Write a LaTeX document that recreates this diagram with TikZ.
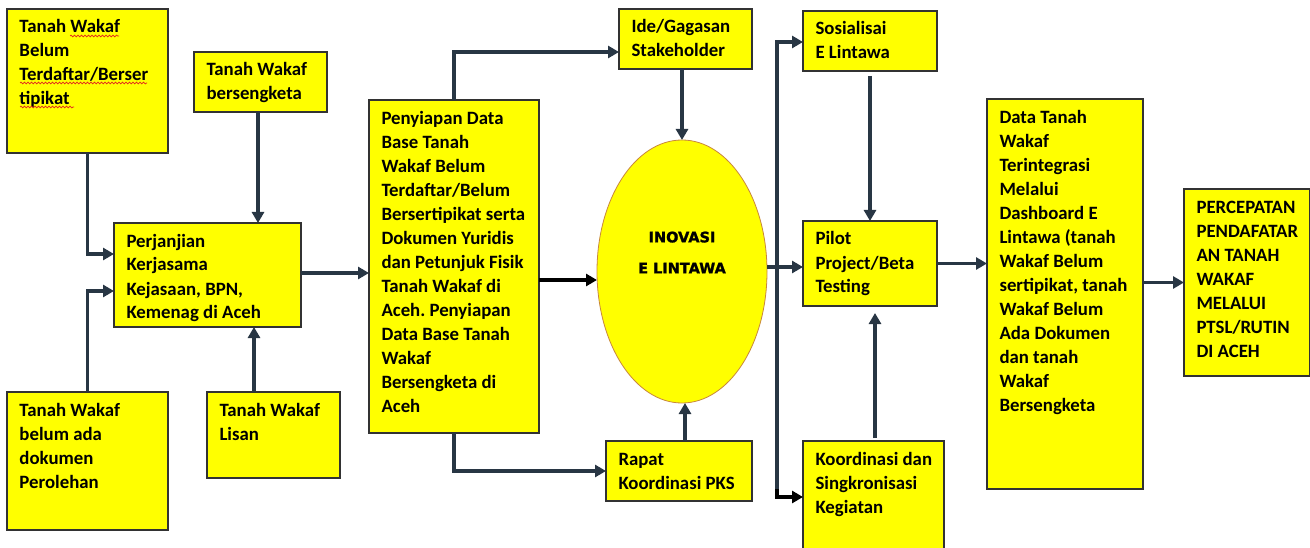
\documentclass[tikz,border=0pt]{standalone}
\usepackage{fontspec}
\setmainfont{Carlito}
\newfontfamily\heavyfont{DejaVu Sans}[BoldFeatures={FakeBold=1.5}]
\usetikzlibrary{arrows.meta,shapes.geometric,decorations.pathmorphing,calc}
\frenchspacing

\definecolor{boxfill}{RGB}{255,255,0}
\definecolor{boxline}{RGB}{50,50,50}
\definecolor{wire}{RGB}{40,54,68}
\definecolor{ovalline}{RGB}{200,135,60}
\definecolor{spellred}{RGB}{225,40,30}

% yellow box with top-left aligned text: name, left, top, width, height, text
\newcommand{\flowbox}[6]{%
  \node[box, minimum width=#4pt, minimum height=#5pt] (#1) at (#2,#3) {};
  \node[txt] (#1-t) at ([shift={(12.5pt,-7.2pt)}]#1.north west) {\strut #6};
}

\begin{document}
\begin{tikzpicture}[x=1pt,y=-1pt,
  box/.style={draw=boxline, fill=boxfill, line width=1.3pt, inner sep=0pt, outer sep=0pt, anchor=north west},
  txt/.style={anchor=north west, inner sep=0pt, outer sep=0pt, align=left, font=\fontsize{18.8}{24}\selectfont\bfseries},
  wirearrow/.style={draw=wire, line width=3.2pt, -{Triangle[length=11pt,width=12pt]}},
  blackarrow/.style={draw=black, line width=3.2pt, -{Triangle[length=11pt,width=12pt]}},
  spell/.style={draw=spellred, line width=0.7pt, decorate, decoration={snake, amplitude=0.9pt, segment length=3.5pt}},
  ctitle/.style={align=center, inner sep=0pt, font=\heavyfont\bfseries\fontsize{14.5}{31}\selectfont}
]
\useasboundingbox (0,0) rectangle (1310,548);
\fill[white] (0,0) rectangle (1310,548);
\clip (0,0) rectangle (1310,548);

% boxes
\flowbox{A}{7}{9}{161}{144}{Tanah Wakaf\\Belum\\Terdaftar/Berser\\tipikat}
\flowbox{B}{194}{52}{133}{60}{Tanah Wakaf\\bersengketa}
\flowbox{C}{114}{223}{187}{104}{Perjanjian\\Kerjasama\\Kejasaan, BPN,\\Kemenag di Aceh}
\flowbox{D}{7}{392}{161}{138}{Tanah Wakaf\\belum ada\\dokumen\\Perolehan}
\flowbox{E}{207}{392}{133}{86}{Tanah Wakaf\\Lisan}
\flowbox{F}{369}{100}{170}{333}{Penyiapan Data\\Base Tanah\\Wakaf Belum\\Terdaftar/Belum\\Bersertipikat serta\\Dokumen Yuridis\\dan Petunjuk Fisik\\Tanah Wakaf di\\Aceh. Penyiapan\\Data Base Tanah\\Wakaf\\Bersengketa di\\Aceh}
\flowbox{G}{619}{9}{133}{60}{Ide/Gagasan\\Stakeholder}
\flowbox{R}{606}{441}{146}{60}{Rapat\\Koordinasi PKS}
\flowbox{S}{803}{11}{134}{60}{Sosialisai\\E Lintawa}
\flowbox{P}{803}{221}{134}{85}{Pilot\\Project/Beta\\Testing}
\flowbox{K}{803}{441}{141}{130}{Koordinasi dan\\Singkronisasi\\Kegiatan}
\flowbox{T}{987}{99}{156}{390}{Data Tanah\\Wakaf\\Terintegrasi\\Melalui\\Dashboard E\\Lintawa (tanah\\Wakaf Belum\\sertipikat, tanah\\Wakaf Belum\\Ada Dokumen\\dan tanah\\Wakaf\\Bersengketa}
\flowbox{Z}{1184}{189}{125.5}{187}{PERCEPATAN\\PENDAFATAR\\AN TANAH\\WAKAF\\MELALUI\\PTSL/RUTIN\\DI ACEH}

% spell-check underlines
\draw[spell] (70,36) -- (119,36);
\draw[spell] (20,83) -- (147,83);
\draw[spell] (20,107) -- (74,107);

% central oval
\node[ellipse, draw=ovalline, fill=boxfill, line width=0.8pt, minimum width=170pt, minimum height=263pt, inner sep=0pt, outer sep=0pt] (inov) at (682,271.5) {};
\node[ctitle] (inovtxt) at ([yshift=19pt]inov.center) {INOVASI\\E LINTAWA};

% connectors, left group
\draw[wirearrow] (A.south) |- ([yshift=21pt]C.west);
\draw[wirearrow] (D.north) |- ([yshift=-16pt]C.west);
\coordinate (bdrop) at ([xshift=-2.5pt]B.south);
\draw[wirearrow] (bdrop) -- (bdrop |- C.north);
\coordinate (erise) at ([xshift=-19.5pt]E.north);
\draw[wirearrow] (erise) -- (erise |- C.south);
\coordinate (cout) at ([yshift=2pt]C.east);
\draw[wirearrow] (cout) -- (cout -| F.west);

% connectors around the oval
\draw[wirearrow] (F.north) |- ([yshift=-13pt]G.west);
\draw[wirearrow] (F.south) |- (R.west);
\coordinate (fout) at ([yshift=-13.5pt]F.east);
\draw[blackarrow] (fout) -- (fout -| inov.west);
\coordinate (gdown) at (G.south -| inov.north);
\draw[wirearrow] (gdown) -- (inov.north);
\coordinate (rup) at ([xshift=6pt]R.north);
\draw[wirearrow] (rup) -- (rup |- inov.south);

% distribution bus
\coordinate (busT) at (777,42);
\coordinate (busB) at (777,497);
\draw[wirearrow] (busB) -- (busT) -- (busT -| S.west);
\draw[blackarrow] ($(busB)+(0,-8)$) |- (busB -| K.west);
\coordinate (oout) at ([yshift=4.5pt]inov.east);
\draw[wirearrow] (oout) -- (oout -| P.west);

% connectors, right group
\coordinate (sdown) at ([yshift=-5pt]S.south);
\draw[wirearrow] (sdown) -- (P.north);
\coordinate (kup) at ([xshift=1.5pt,yshift=3pt]K.north);
\draw[wirearrow, shorten >=7pt] (kup) -- (kup |- P.south);
\draw[wirearrow] (P.east) -- (P.east -| T.west);
\coordinate (tout) at (Z.west -| T.east);
\draw[wirearrow] (tout) -- (Z.west);
\end{tikzpicture}
\end{document}
